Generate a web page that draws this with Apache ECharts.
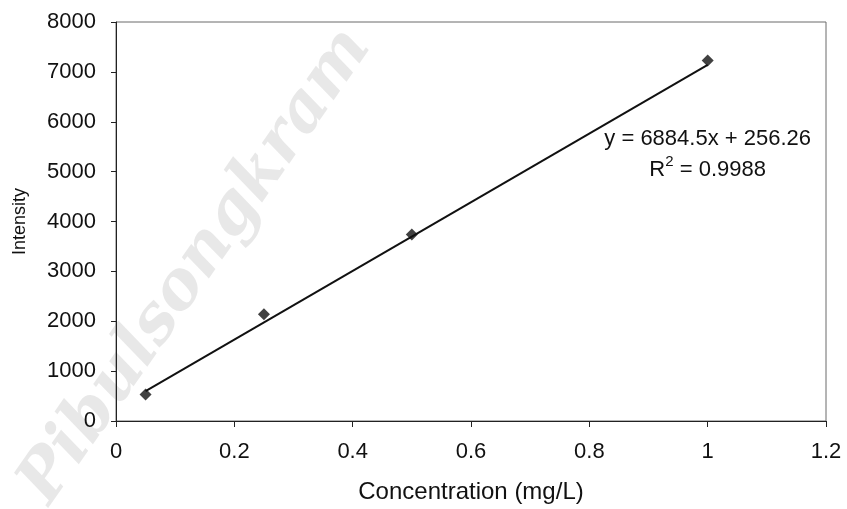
<!DOCTYPE html>
<html>
<head>
<meta charset="utf-8">
<script src="https://cdn.jsdelivr.net/npm/echarts@6/dist/echarts.min.js"></script>
<style>
  html, body { margin: 0; padding: 0; background: #fff; }
  #chart { width: 847px; height: 509px; }
</style>
</head>
<body>
<div id="chart"></div>
<script>
// Calibration standards: concentration (mg/L) vs. measured intensity
const concentrations = [0.05, 0.25, 0.5, 1.0];
const intensities = [530, 2140, 3740, 7230];

// Linear least-squares fit reported for the calibration
const fitSlope = 6884.5;
const fitIntercept = 256.26;
const fitR2 = 0.9988;

const xTicks = [0, 0.2, 0.4, 0.6, 0.8, 1, 1.2];
const yTicks = [0, 1000, 2000, 3000, 4000, 5000, 6000, 7000, 8000];

const points = concentrations.map((c, i) => [c, intensities[i]]);
const xFirst = Math.min(...concentrations);
const xLast = Math.max(...concentrations);
const fitLine = [
  [xFirst, fitSlope * xFirst + fitIntercept],
  [xLast, fitSlope * xLast + fitIntercept]
];

const FONT = 'Liberation Sans, Arial, sans-serif';
const INK = '#111111';

const chart = echarts.init(document.getElementById('chart'), null, { renderer: 'canvas' });

chart.setOption({
  backgroundColor: '#ffffff',
  animation: false,
  grid: { left: 116, right: 21, top: 22, bottom: 88, show: true, borderColor: '#6a6a6a', borderWidth: 1, backgroundColor: 'transparent' },
  xAxis: {
    type: 'value',
    min: xTicks[0],
    max: xTicks[xTicks.length - 1],
    interval: xTicks[1] - xTicks[0],
    name: 'Concentration (mg/L)',
    nameLocation: 'middle',
    nameGap: 59,
    nameTextStyle: { fontFamily: FONT, fontSize: 24, color: INK },
    axisLine: { show: true, onZero: false, lineStyle: { color: '#222', width: 1 } },
    axisTick: { show: true, inside: false, length: 6, lineStyle: { color: '#222' } },
    axisLabel: { fontFamily: FONT, fontSize: 22, color: INK, margin: 20, formatter: v => String(+v.toFixed(1)) },
    splitLine: { show: false }
  },
  yAxis: {
    type: 'value',
    min: yTicks[0],
    max: yTicks[yTicks.length - 1],
    interval: yTicks[1] - yTicks[0],
    name: 'Intensity',
    nameLocation: 'middle',
    nameGap: 87,
    nameRotate: 90,
    nameTextStyle: { fontFamily: FONT, fontSize: 18, color: INK },
    axisLine: { show: true, lineStyle: { color: '#222', width: 1 } },
    axisTick: { show: true, inside: false, length: 5, lineStyle: { color: '#222' } },
    axisLabel: { fontFamily: FONT, fontSize: 22, color: INK, margin: 20, formatter: v => String(v) },
    splitLine: { show: false }
  },
  graphic: [
    {
      type: 'text',
      z: -10,
      rotation: Math.PI * 55 / 180,
      x: 8,
      y: 478,
      style: {
        text: 'Pibulsongkram',
        font: 'italic bold 66px "DejaVu Serif", serif',
        fill: 'rgba(150,150,150,0.22)'
      }
    }
  ],
  series: [
    {
      name: 'Trendline',
      type: 'line',
      data: fitLine,
      symbol: 'none',
      lineStyle: { color: '#111', width: 2 },
      z: 2,
      silent: true,
      endLabel: {
        show: true,
        distance: 0,
        offset: [0, 90],
        formatter: () => 'y = ' + fitSlope + 'x + ' + fitIntercept + '\n{r|R}{sup|2}{r| = ' + fitR2 + '}',
        fontFamily: FONT,
        fontSize: 22,
        color: INK,
        align: 'center',
        lineHeight: 31,
        rich: {
          r: { fontFamily: FONT, fontSize: 22, color: INK, lineHeight: 31 },
          sup: { fontFamily: FONT, fontSize: 15, color: INK, verticalAlign: 'top', lineHeight: 22 }
        }
      }
    },
    {
      name: 'Standards',
      type: 'scatter',
      data: points,
      symbol: 'diamond',
      symbolSize: 12,
      itemStyle: { color: '#111111' },
      z: 3
    }
  ]
});
</script>
</body>
</html>
